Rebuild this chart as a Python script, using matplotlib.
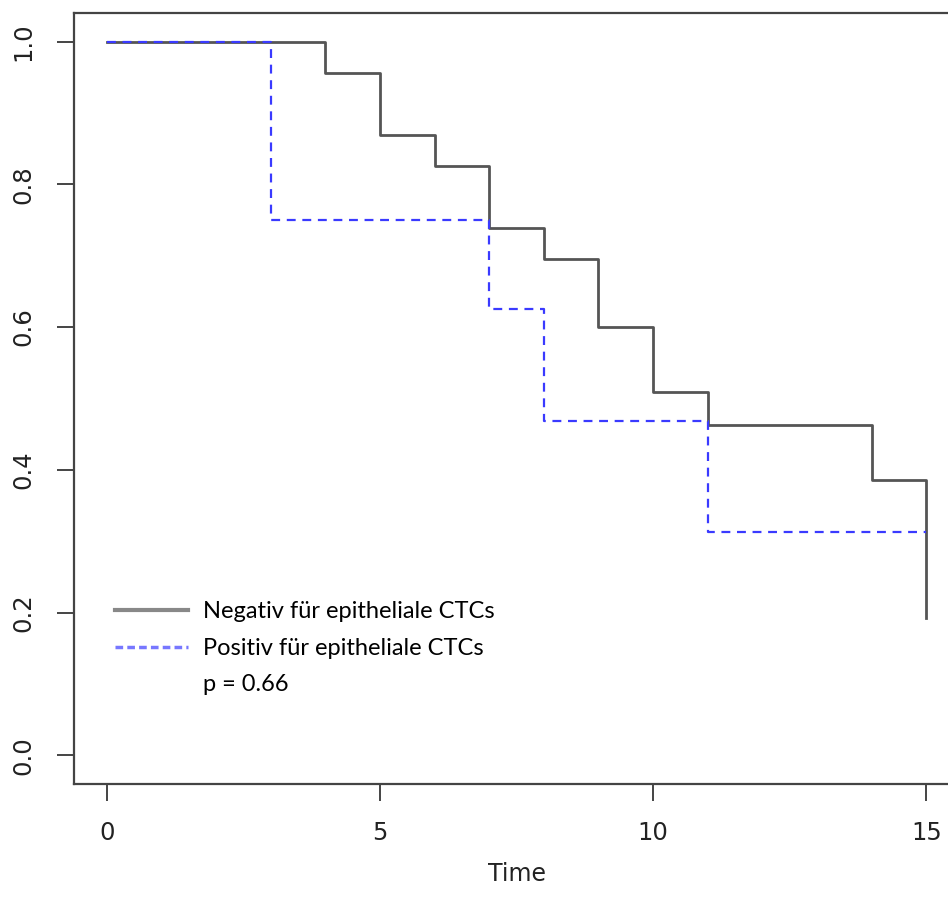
import matplotlib.pyplot as plt
from matplotlib.lines import Line2D

# Kaplan-Meier Daten
neg_time = [0, 4, 5, 6, 7, 8, 9, 10, 11, 14, 15]
neg_surv = [1.0, 0.9565, 0.8696, 0.8261, 0.7391, 0.6957, 0.600, 0.5087, 0.4625, 0.3854, 0.1927]
pos_time = [0, 3, 7, 8, 11, 15]
pos_surv = [1.0, 0.75, 0.625, 0.469, 0.3125, 0.3125]

labels = ['Negativ für epitheliale CTCs', 'Positiv für epitheliale CTCs', 'p = 0.66']
x_ticks = [0, 5, 10, 15]
y_ticks = [0.0, 0.2, 0.4, 0.6, 0.8, 1.0]

fig = plt.figure(figsize=(9.48, 9.09), dpi=100)
# rechter Rand der Box liegt ausserhalb des Bildes (wie im Original)
ax = fig.add_axes([74 / 948, 1 - 784 / 909, 885 / 948, 771 / 909])

ax.step(neg_time, neg_surv, where='post', color='#555555', lw=2.0)
ax.step(pos_time, pos_surv, where='post', color='#3a3aff', lw=1.6,
        linestyle=(0, (4, 3)))

ax.set_xlim(-0.6, 15.6)
ax.set_ylim(-0.04, 1.04)
ax.set_xticks(x_ticks)
ax.set_yticks(y_ticks)
ax.set_xticklabels([str(t) for t in x_ticks])
ax.set_yticklabels([f'{t:.1f}' for t in y_ticks], rotation=90, va='center')

for s in ax.spines.values():
    s.set_color('#444444')
    s.set_linewidth(1.6)
ax.tick_params(length=12, width=1.4, color='#444444', labelsize=17.5,
               labelcolor='#222222')
ax.tick_params(axis='x', pad=15)
ax.tick_params(axis='y', pad=16)

ax.set_xlabel('Time', fontsize=17, color='#222222', labelpad=12)

# Legende
handles = [Line2D([], [], color='#888888', lw=3),
           Line2D([], [], color='#7777ff', lw=2.5, linestyle=(0, (2.2, 1.2))),
           Line2D([], [], color='none')]
ax.legend(handles, labels, loc='upper left', bbox_to_anchor=(0.036, 0.249),
          frameon=False, prop={'family': 'Lato', 'size': 17},
          handlelength=3.1, handletextpad=0.62, labelspacing=0.65,
          borderaxespad=0)

fig.savefig('out.png', dpi=100)
